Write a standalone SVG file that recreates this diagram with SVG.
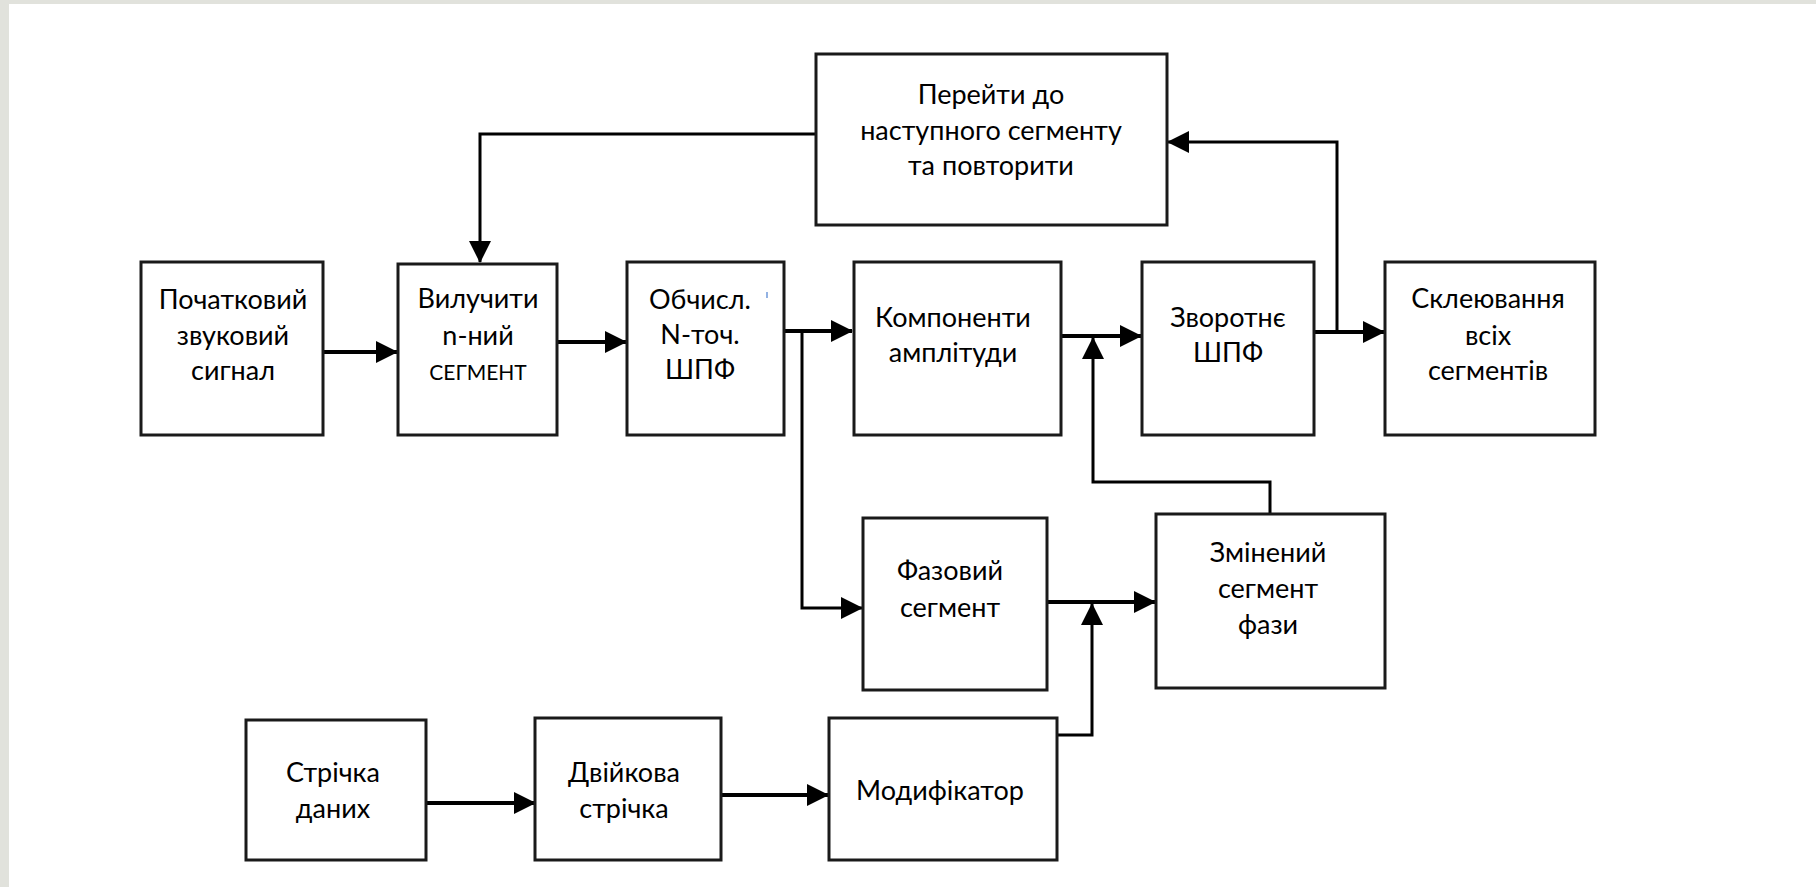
<svg xmlns="http://www.w3.org/2000/svg" width="1816" height="887" viewBox="0 0 1816 887">
<defs>
<style>
.box{fill:#fff;stroke:#1a1a1a;stroke-width:3}
.t{font-family:Lato,"Noto Sans","Liberation Sans",sans-serif;font-size:27px;fill:#000;text-anchor:middle}
.sm{font-size:21px}
.ln{fill:none;stroke:#000;stroke-width:3.8}
.fb{fill:none;stroke:#000;stroke-width:3}
</style>
<marker id="ah" markerUnits="userSpaceOnUse" markerWidth="22" markerHeight="22" refX="21" refY="11" orient="auto" viewBox="0 0 22 22">
<path d="M0,0 L22,11 L0,22 z" fill="#000"/>
</marker>
</defs>
<rect x="0" y="0" width="1816" height="887" fill="#fff"/>
<rect x="0" y="0" width="1816" height="4" fill="#e1e2dc"/>
<rect x="0" y="0" width="9" height="887" fill="#e1e2dc"/>

<g id="connectors">
<path class="ln" d="M323,352 H397" marker-end="url(#ah)"/>
<path class="ln" d="M557,342 H626" marker-end="url(#ah)"/>
<path class="ln" d="M784,331 H852" marker-end="url(#ah)"/>
<path class="fb" d="M802,331 V608 H862" marker-end="url(#ah)"/>
<path class="ln" d="M1062,336 H1141" marker-end="url(#ah)"/>
<path class="fb" d="M1270,514 V482 H1093 V338" marker-end="url(#ah)"/>
<path class="ln" d="M1047,602 H1155" marker-end="url(#ah)"/>
<path class="fb" d="M1057,735 H1092 V604" marker-end="url(#ah)"/>
<path class="ln" d="M1314,332 H1384" marker-end="url(#ah)"/>
<path class="fb" d="M1337,332 V142 H1168" marker-end="url(#ah)"/>
<path class="fb" d="M816,134 H480 V262" marker-end="url(#ah)"/>
<path class="ln" d="M426,803 H535" marker-end="url(#ah)"/>
<path class="ln" d="M720,795 H828" marker-end="url(#ah)"/>
</g>

<g id="n-pochatkovyi">
<rect class="box" x="141" y="262" width="182" height="173"/>
<text class="t" x="233" y="309">Початковий</text>
<text class="t" x="233" y="345">звуковий</text>
<text class="t" x="233" y="380">сигнал</text>
</g>
<g id="n-vyluchyty">
<rect class="box" x="398" y="264" width="159" height="171"/>
<text class="t" x="478" y="308">Вилучити</text>
<text class="t" x="478" y="345">n-ний</text>
<text class="t sm" x="478" y="380">СЕГМЕНТ</text>
</g>
<g id="n-obchysl">
<rect class="box" x="627" y="262" width="157" height="173"/>
<text class="t" x="700" y="309">Обчисл.</text>
<text class="t" x="700" y="344">N-точ.</text>
<text class="t" x="700" y="379">ШПФ</text>
<line x1="767" y1="292" x2="767" y2="298" stroke="#4a7fd0" stroke-width="1.2"/>
</g>
<g id="n-komponenty">
<rect class="box" x="854" y="262" width="207" height="173"/>
<text class="t" x="953" y="327">Компоненти</text>
<text class="t" x="953" y="362">амплітуди</text>
</g>
<g id="n-zvorotne">
<rect class="box" x="1142" y="262" width="172" height="173"/>
<text class="t" x="1228" y="327">Зворотнє</text>
<text class="t" x="1228" y="362">ШПФ</text>
</g>
<g id="n-skleiuvannia">
<rect class="box" x="1385" y="262" width="210" height="173"/>
<text class="t" x="1488" y="308">Склеювання</text>
<text class="t" x="1488" y="345">всіх</text>
<text class="t" x="1488" y="380">сегментів</text>
</g>
<g id="n-pereity">
<rect class="box" x="816" y="54" width="351" height="171"/>
<text class="t" x="991" y="104">Перейти до</text>
<text class="t" x="991" y="140">наступного сегменту</text>
<text class="t" x="991" y="175">та повторити</text>
</g>
<g id="n-fazovyi">
<rect class="box" x="863" y="518" width="184" height="172"/>
<text class="t" x="950" y="580">Фазовий</text>
<text class="t" x="950" y="617">сегмент</text>
</g>
<g id="n-zminenyi">
<rect class="box" x="1156" y="514" width="229" height="174"/>
<text class="t" x="1268" y="562">Змінений</text>
<text class="t" x="1268" y="598">сегмент</text>
<text class="t" x="1268" y="634">фази</text>
</g>
<g id="n-strichka">
<rect class="box" x="246" y="720" width="180" height="140"/>
<text class="t" x="333" y="782">Стрічка</text>
<text class="t" x="333" y="818">даних</text>
</g>
<g id="n-dviikova">
<rect class="box" x="535" y="718" width="186" height="142"/>
<text class="t" x="624" y="782">Двійкова</text>
<text class="t" x="624" y="818">стрічка</text>
</g>
<g id="n-modyfikator">
<rect class="box" x="829" y="718" width="228" height="142"/>
<text class="t" x="940" y="800">Модифікатор</text>
</g>
</svg>
